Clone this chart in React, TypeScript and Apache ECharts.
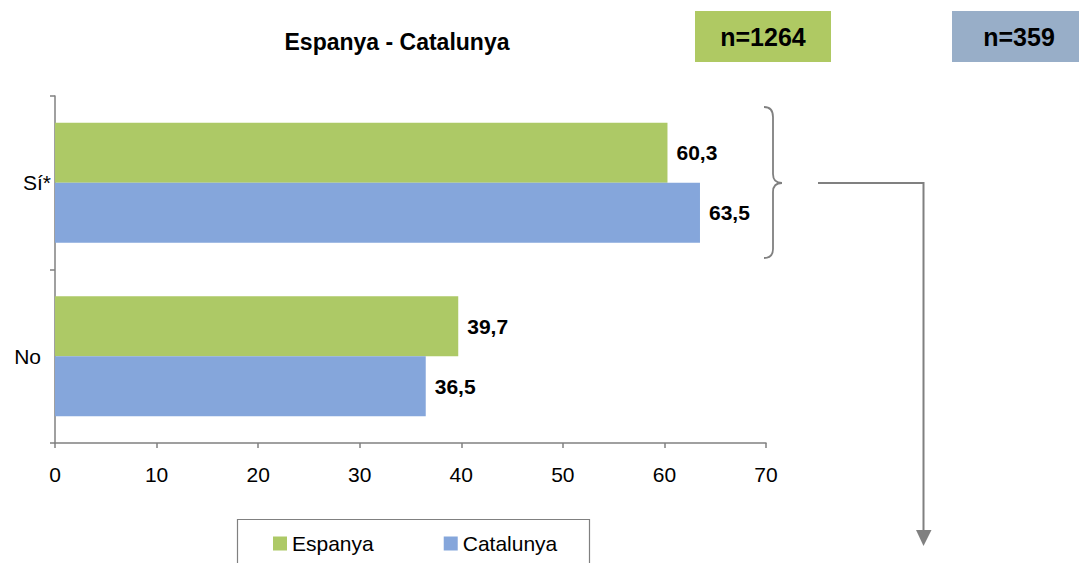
import React, { useEffect, useRef } from 'react';
import * as echarts from 'echarts';

const title = 'Espanya - Catalunya';
const categories = ['Sí*', 'No'];
const seriesNames = ['Espanya', 'Catalunya'];
const espanyaValues = [60.3, 39.7];
const catalunyaValues = [63.5, 36.5];
const sampleLabels = ['n=1264', 'n=359'];
const axisMin = 0;
const axisMax = 70;
const axisInterval = 10;

const GREEN = '#ADC966';
const BLUE = '#85A6DB';
const GREY = '#808080';
const FONT = '"Liberation Sans", Arial, sans-serif';

const braceD =
  'M764,107 Q773,107 773,117 L773,174 Q773,183 782,183 Q773,183 773,192 L773,249 Q773,258 764,258';
echarts.graphic.registerShape('brace', (echarts.graphic as any).extendPath(braceD, {}));

const fmt = (v: number) => v.toFixed(1).replace('.', ',');

export default function App() {
  const ref = useRef<HTMLDivElement>(null);
  useEffect(() => {
    if (!ref.current) return;
    const chart = echarts.init(ref.current, null, { renderer: 'svg' });
    const labelStyle = {
      show: true,
      position: 'right',
      distance: 9,
      fontFamily: FONT,
      fontWeight: 'bold',
      fontSize: 21,
      color: '#000',
      formatter: (p: any) => fmt(p.value),
    };
    chart.setOption({
      animation: false,
      textStyle: { fontFamily: FONT },
      grid: { left: 55, right: 313, top: 96, bottom: 120, containLabel: false },
      legend: {
        data: seriesNames,
        left: 273,
        top: 533,
        padding: 0,
        itemGap: 70,
        itemWidth: 14,
        itemHeight: 14,
        icon: 'rect',
        textStyle: { fontFamily: FONT, fontSize: 21, color: '#000' },
      },
      xAxis: {
        type: 'value',
        min: axisMin,
        max: axisMax,
        interval: axisInterval,
        axisLine: { show: true, lineStyle: { color: GREY, width: 1.5 } },
        axisTick: { show: true, length: 5, lineStyle: { color: GREY, width: 1.5 } },
        axisLabel: { margin: 21, fontFamily: FONT, fontSize: 21, color: '#000' },
        splitLine: { show: false },
      },
      yAxis: {
        type: 'category',
        data: categories,
        inverse: true,
        axisLine: { show: true, lineStyle: { color: GREY, width: 1.5 } },
        axisTick: { show: true, length: 5, lineStyle: { color: GREY, width: 1.5 } },
        axisLabel: {
          margin: 4,
          fontFamily: FONT,
          fontSize: 21,
          color: '#000',
          formatter: (v: string) => (v === 'No' ? `{no|${v}}` : v),
          rich: { no: { fontFamily: FONT, fontSize: 21, color: '#000', padding: [0, 10, 0, 0] } },
        },
      },
      series: [
        {
          name: seriesNames[0],
          type: 'bar',
          data: espanyaValues,
          barWidth: 60,
          barGap: '0%',
          itemStyle: { color: GREEN },
          label: labelStyle,
        },
        {
          name: seriesNames[1],
          type: 'bar',
          data: catalunyaValues,
          barWidth: 60,
          barGap: '0%',
          itemStyle: { color: BLUE },
          label: labelStyle,
        },
      ],
      graphic: [
        {
          type: 'text',
          x: 397,
          y: 42,
          style: {
            text: title,
            fontFamily: FONT,
            fontWeight: 'bold',
            fontSize: 23,
            fill: '#000',
            textAlign: 'center',
            textVerticalAlign: 'middle',
          },
        },
        { type: 'rect', shape: { x: 695, y: 11, width: 136, height: 51 }, style: { fill: '#AFC963' } },
        {
          type: 'text',
          x: 763,
          y: 37,
          style: {
            text: sampleLabels[0],
            fontFamily: FONT,
            fontWeight: 'bold',
            fontSize: 25,
            fill: '#000',
            textAlign: 'center',
            textVerticalAlign: 'middle',
          },
        },
        { type: 'rect', shape: { x: 952, y: 11, width: 136, height: 51 }, style: { fill: '#98AEC8' } },
        {
          type: 'text',
          x: 1019,
          y: 37,
          style: {
            text: sampleLabels[1],
            fontFamily: FONT,
            fontWeight: 'bold',
            fontSize: 25,
            fill: '#000',
            textAlign: 'center',
            textVerticalAlign: 'middle',
          },
        },
        {
          type: 'brace',
          x: 0,
          y: 0,
          style: { stroke: GREY, fill: null, lineWidth: 1.8 },
        },
        {
          type: 'polyline',
          shape: { points: [[818, 183], [923.5, 183], [923.5, 533]] },
          style: { stroke: GREY, fill: null, lineWidth: 2 },
        },
        {
          type: 'polygon',
          shape: { points: [[916, 530], [931.5, 530], [923.5, 546]] },
          style: { fill: GREY },
        },
        {
          type: 'rect',
          shape: { x: 237.5, y: 519.5, width: 352, height: 60 },
          style: { fill: null, stroke: GREY, lineWidth: 1.2 },
        },
      ],
    });
    return () => chart.dispose();
  }, []);
  return (
    <div
      ref={ref}
      style={{ position: 'fixed', left: 0, top: 0, width: 1079, height: 563, background: '#fff' }}
    />
  );
}
